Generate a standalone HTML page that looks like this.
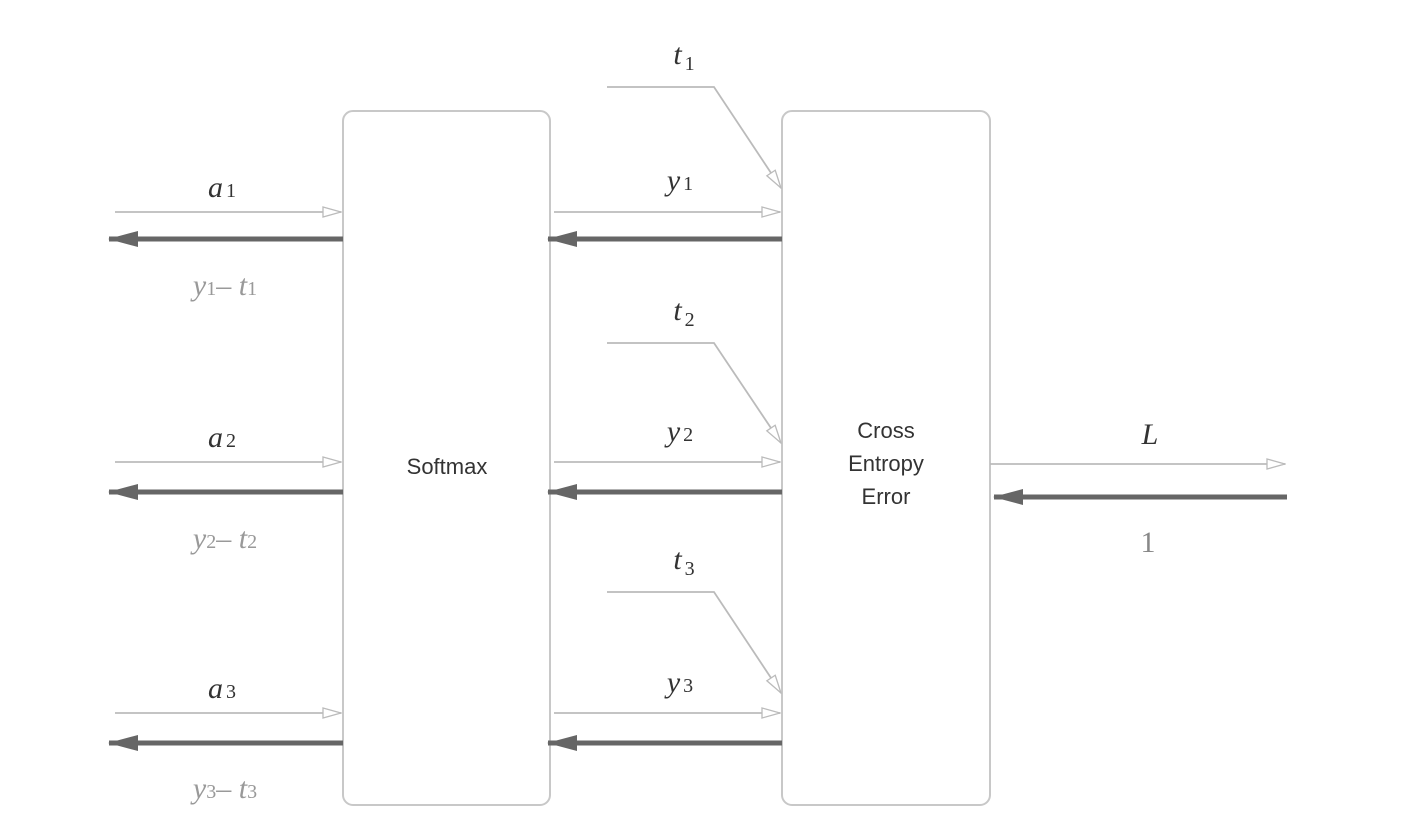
<!DOCTYPE html>
<html><head><style>body{margin:0;background:#fff}</style></head><body>
<svg width="1426" height="826" xmlns="http://www.w3.org/2000/svg" font-family="Liberation Serif, serif">
<defs>
<marker id="o" markerWidth="20" markerHeight="12" refX="19" refY="6" orient="auto" markerUnits="userSpaceOnUse"><path d="M1,1 L19,6 L1,11 Z" fill="#fff" stroke="#bbb" stroke-width="1.3"/></marker>
<marker id="f" markerWidth="30" markerHeight="18" refX="29" refY="9" orient="auto" markerUnits="userSpaceOnUse"><path d="M0,1 L30,9 L0,17 Z" fill="#666"/></marker>
</defs>
<g fill="none" stroke="#c8c8c8" stroke-width="2">
<rect x="343" y="111" width="207" height="694" rx="10"/>
<rect x="782" y="111" width="208" height="694" rx="10"/>
</g>
<g stroke="#bbb" stroke-width="1.8" fill="none" marker-end="url(#o)">
<line x1="115" y1="212" x2="341" y2="212"/>
<line x1="115" y1="462" x2="341" y2="462"/>
<line x1="115" y1="713" x2="341" y2="713"/>
<line x1="554" y1="212" x2="780" y2="212"/>
<line x1="554" y1="462" x2="780" y2="462"/>
<line x1="554" y1="713" x2="780" y2="713"/>
<polyline points="607,87 714,87 781,188"/>
<polyline points="607,343 714,343 781,443"/>
<polyline points="607,592 714,592 781,693"/>
<line x1="990" y1="464" x2="1285" y2="464"/>
</g>
<g stroke="#666" stroke-width="5" marker-end="url(#f)">
<line x1="343" y1="239" x2="109" y2="239"/>
<line x1="343" y1="492" x2="109" y2="492"/>
<line x1="343" y1="743" x2="109" y2="743"/>
<line x1="782" y1="239" x2="548" y2="239"/>
<line x1="782" y1="492" x2="548" y2="492"/>
<line x1="782" y1="743" x2="548" y2="743"/>
<line x1="1287" y1="497" x2="994" y2="497"/>
</g>
<g font-style="italic" font-size="30" fill="#333" text-anchor="middle">
<text x="222" y="197">a<tspan font-size="20" font-style="normal" dx="3">1</tspan></text>
<text x="222" y="447">a<tspan font-size="20" font-style="normal" dx="3">2</tspan></text>
<text x="222" y="698">a<tspan font-size="20" font-style="normal" dx="3">3</tspan></text>
<text x="680" y="190">y<tspan font-size="20" font-style="normal" dx="3">1</tspan></text>
<text x="680" y="441">y<tspan font-size="20" font-style="normal" dx="3">2</tspan></text>
<text x="680" y="692">y<tspan font-size="20" font-style="normal" dx="3">3</tspan></text>
<text x="684" y="64">t<tspan font-size="20" font-style="normal" dx="3" dy="6">1</tspan></text>
<text x="684" y="320">t<tspan font-size="20" font-style="normal" dx="3" dy="6">2</tspan></text>
<text x="684" y="569">t<tspan font-size="20" font-style="normal" dx="3" dy="6">3</tspan></text>
<text x="1150" y="444">L</text>
<text x="1148" y="552" font-style="normal" fill="#888">1</text>
</g>
<g font-style="italic" font-size="30" fill="#999" text-anchor="middle">
<text x="225" y="295">y<tspan font-size="20" font-style="normal">1</tspan><tspan font-style="normal">–</tspan> t<tspan font-size="20" font-style="normal">1</tspan></text>
<text x="225" y="548">y<tspan font-size="20" font-style="normal">2</tspan><tspan font-style="normal">–</tspan> t<tspan font-size="20" font-style="normal">2</tspan></text>
<text x="225" y="798">y<tspan font-size="20" font-style="normal">3</tspan><tspan font-style="normal">–</tspan> t<tspan font-size="20" font-style="normal">3</tspan></text>
</g>
<g font-family="Liberation Sans, sans-serif" font-size="22" fill="#333" text-anchor="middle">
<text x="447" y="474">Softmax</text>
<text x="886" y="438">Cross</text>
<text x="886" y="471">Entropy</text>
<text x="886" y="504">Error</text>
</g>
</svg>
</body></html>
